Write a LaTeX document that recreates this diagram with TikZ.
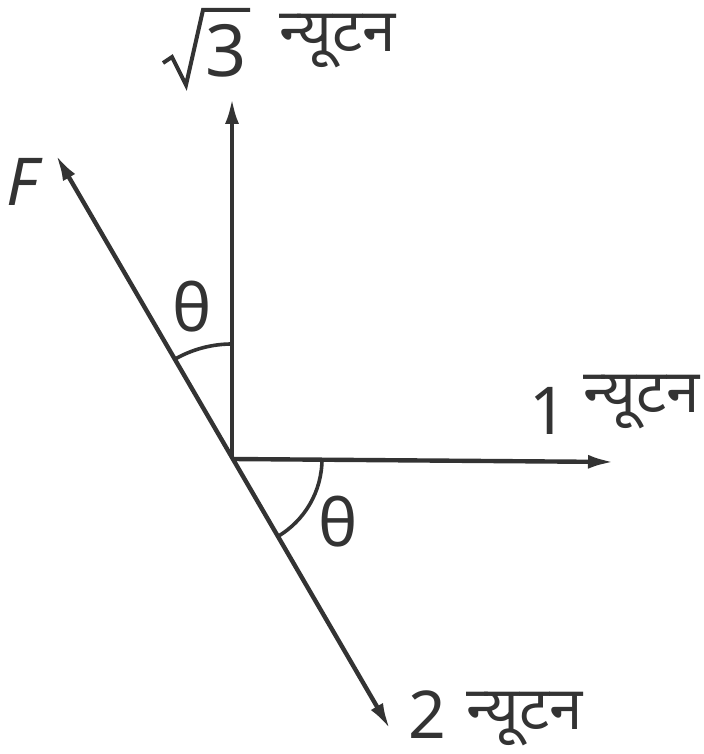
\documentclass[tikz,border=0pt]{standalone}
\usepackage{fontspec}
\setmainfont{Noto Sans}
\newfontfamily\hindi[Script=Devanagari]{Noto Sans}
\usetikzlibrary{arrows.meta}
\definecolor{ink}{HTML}{333333}
\begin{document}
\begin{tikzpicture}[x=0.5pt,y=0.5pt,
  vec/.style={draw=ink,line width=2.2pt,-{Latex[length=13pt,width=7pt]}},
  bivec/.style={draw=ink,line width=2.2pt,{Latex[length=13pt,width=7pt]}-{Latex[length=13pt,width=7pt]}},
  anglearc/.style={draw=ink,line width=1.8pt},
  radical/.style={draw=ink,line width=2pt,line join=miter},
  lbl/.style={text=ink,font=\fontsize{33}{38}\selectfont,inner sep=0pt},
  hlbl/.style={text=ink,font=\hindi\fontsize{30}{34}\selectfont,inner sep=0pt}]
\useasboundingbox (0,0) rectangle (703,754);
\coordinate (O) at (232,295);
\coordinate (T) at (232,656);
\coordinate (R) at (614,292);
\coordinate (F) at (56,599);
\coordinate (B) at (390,25);
\draw[vec] (O) -- (T);
\draw[vec] (O) -- (R);
\draw[bivec] (F) -- (B);
\draw[anglearc] (O) ++(90:57.5pt) arc[start angle=90,end angle=120,radius=57.5pt];
\draw[anglearc] (O) ++(0:45pt) arc[start angle=0,end angle=-60,radius=45pt];
\coordinate (r1) at (163,691);
\coordinate (r2) at (172,697);
\coordinate (r3) at (186,669);
\coordinate (r4) at (203,744);
\coordinate (r5) at (250,744);
\draw[radical] (r1) -- (r2) -- (r3) -- (r4) -- (r5);
\node[lbl,anchor=base,font=\fontsize{36}{40}\selectfont] (s3) at (226,677) {3};
\node[hlbl,anchor=base] (n1) at (338,702) {न्यूटन};
\node[lbl,anchor=base] (one) at (548,319) {1};
\node[hlbl,anchor=base] (n2) at (642,341) {न्यूटन};
\node[lbl,anchor=base] (two) at (427,16) {2};
\node[hlbl,anchor=base] (n3) at (525,25) {न्यूटन};
\node[lbl] (fl) at (22,572) {\itshape F};
\node[lbl] (t1) at (192,447) {θ};
\node[lbl] (t2) at (338,232) {θ};
\end{tikzpicture}
\end{document}
